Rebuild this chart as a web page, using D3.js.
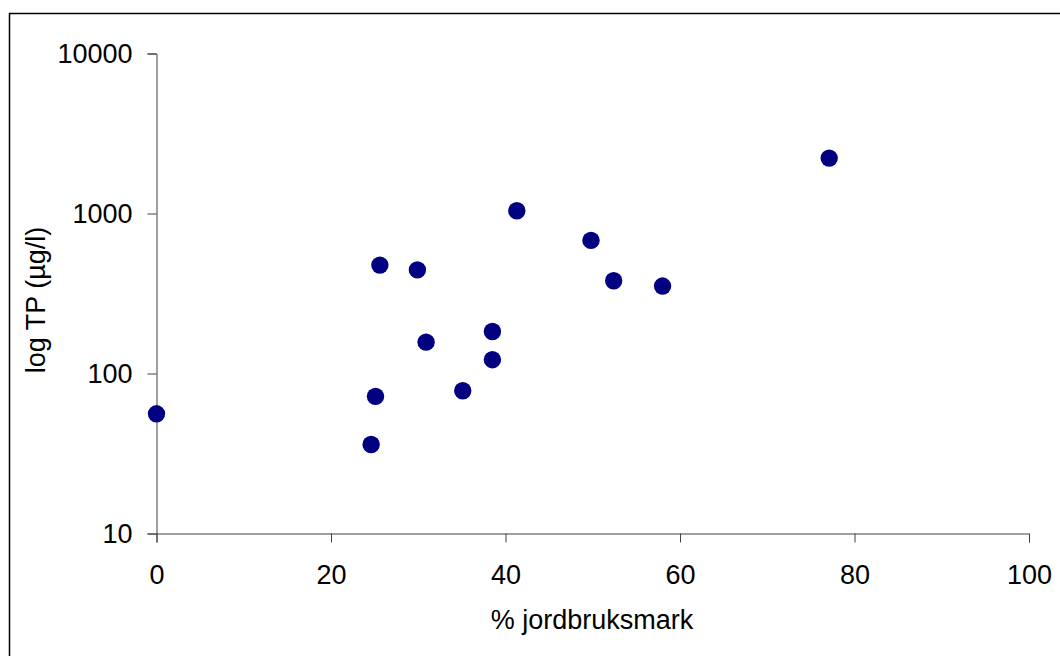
<!DOCTYPE html>
<html>
<head>
<meta charset="utf-8">
<script src="https://cdn.jsdelivr.net/npm/d3@7"></script>
<style>
  html, body { margin: 0; padding: 0; background: #fff; }
  svg { display: block; font-family: "Liberation Sans", Arial, sans-serif; }
</style>
</head>
<body>
<svg id="chart" width="1060" height="656"></svg>
<script>
// Scatter: % farmland vs log total phosphorus
const agriPct = [0, 24.6, 25.1, 25.6, 29.9, 30.9, 35.1, 38.5, 38.5, 41.3, 49.8, 52.4, 58.0, 77.1];
const tpValues = [56, 36, 72, 476, 444, 157, 78, 183, 122, 1040, 679, 380, 352, 2220];
const xTicks = [0, 20, 40, 60, 80, 100];
const yTicks = [10, 100, 1000, 10000];

const svg = d3.select("#chart");

// outer frame (runs off the right and bottom edges)
svg.append("rect")
  .attr("x", 9.5).attr("y", 13.5)
  .attr("width", 1100).attr("height", 700)
  .attr("fill", "none")
  .attr("stroke", "#000")
  .attr("stroke-width", 1.5);

const x = d3.scaleLinear().domain([0, 100]).range([156.5, 1029]);
const y = d3.scaleLog().domain([10, 10000]).range([533.5, 53.5]);

const axisColor = "#404040";

// y axis
const yAxis = svg.append("g")
  .attr("transform", `translate(${x(0)},0)`)
  .call(d3.axisLeft(y).tickValues(yTicks).tickFormat(d3.format("d")).tickSize(9).tickPadding(15));
yAxis.select(".domain").attr("stroke", axisColor);
yAxis.selectAll(".tick line").attr("stroke", axisColor);
yAxis.selectAll(".tick text")
  .attr("fill", "#000")
  .style("font-size", "27px");

// x axis
const xAxis = svg.append("g")
  .attr("transform", `translate(0,${y(10)})`)
  .call(d3.axisBottom(x).tickValues(xTicks).tickSize(9).tickPadding(22));
xAxis.select(".domain").attr("stroke", axisColor);
xAxis.selectAll(".tick line").attr("stroke", axisColor);
xAxis.selectAll(".tick text")
  .attr("fill", "#000")
  .style("font-size", "27px");

// axis titles
svg.append("text")
  .attr("x", 592)
  .attr("y", 629)
  .attr("text-anchor", "middle")
  .style("font-size", "27px")
  .text("% jordbruksmark");

svg.append("text")
  .attr("transform", "translate(45,300) rotate(-90)")
  .attr("text-anchor", "middle")
  .style("font-size", "27px")
  .text("log TP (µg/l)");

// points
svg.append("g")
  .selectAll("circle")
  .data(agriPct.map((d, i) => ({ pct: d, tp: tpValues[i] })))
  .join("circle")
  .attr("cx", d => x(d.pct))
  .attr("cy", d => y(d.tp))
  .attr("r", 8.7)
  .attr("fill", "#000080");
</script>
</body>
</html>
